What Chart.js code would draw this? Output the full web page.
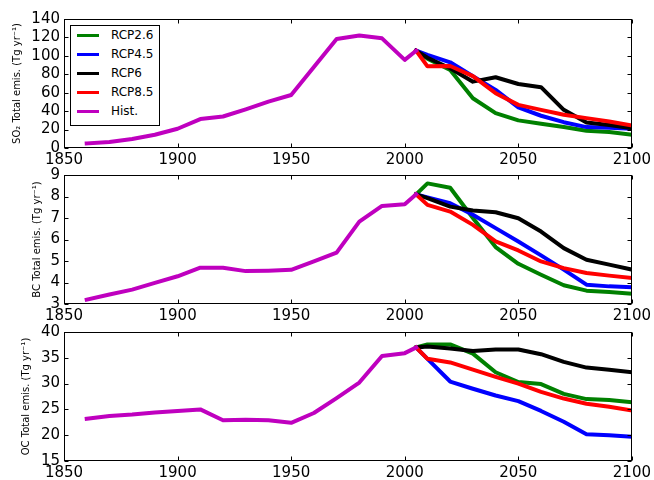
<!DOCTYPE html>
<html>
<head>
<meta charset="utf-8">
<title>Total emissions</title>
<script src="https://cdn.jsdelivr.net/npm/chart.js@4"></script>
<style>
  html, body { margin: 0; padding: 0; background: #fff; }
  #wrap { position: relative; width: 654px; height: 480px; overflow: hidden; }
  #wrap canvas { position: absolute; left: 0; top: 0; }
  #legend {
    position: absolute; left: 70px; top: 25px; width: 90px; height: 101px;
    border: 1px solid #000; background: #fff; box-sizing: border-box;
    font: 12px "DejaVu Sans", sans-serif; color: #000;
  }
  #legend .row { position: absolute; left: 0; height: 19px; line-height: 19px; width: 88px; }
  #legend .swatch { position: absolute; left: 6px; top: 8px; width: 22px; height: 3px; }
  #legend .label { position: absolute; left: 40px; top: 0; white-space: nowrap; }
</style>
</head>
<body>
<div id="wrap">
  <canvas id="so2" width="654" height="480"></canvas>
  <canvas id="bc" width="654" height="480"></canvas>
  <canvas id="oc" width="654" height="480"></canvas>
  <div id="legend"></div>
</div>
<script>
// years of the historical record and of the scenario projections
const histYears = [1860, 1870, 1880, 1890, 1900, 1910, 1920, 1930, 1940, 1950, 1960, 1970, 1980, 1990, 2000, 2005];
const rcpYears = [2005, 2010, 2020, 2030, 2040, 2050, 2060, 2070, 2080, 2090, 2100];

const seriesNames = ['RCP2.6', 'RCP4.5', 'RCP6', 'RCP8.5', 'Hist.'];
const seriesColors = ['#008000', '#0000ff', '#000000', '#ff0000', '#bf00bf'];

// SO2, Tg/yr
const so2Hist = [5, 6.5, 9.7, 14.4, 20.9, 31.4, 34.2, 42, 50.4, 57.5, 88, 118.3, 122, 119, 95.6, 105.6];
const so2Rcp26 = [105.6, 97, 84.7, 54, 37.8, 30, 26.3, 22.7, 18.7, 17.3, 14.4];
const so2Rcp45 = [105.6, 101, 93, 78, 63, 44, 35, 28, 22.7, 22, 21];
const so2Rcp60 = [105.6, 98, 86.5, 72, 76.8, 69.5, 66, 41.4, 27.7, 25, 21.6];
const so2Rcp85 = [105.6, 88.6, 89, 78, 59.5, 46.8, 41.4, 36, 32.4, 28.8, 24.5];

// black carbon, Tg/yr
const bcHist = [3.2, 3.44, 3.67, 3.98, 4.29, 4.69, 4.69, 4.53, 4.55, 4.59, 4.98, 5.39, 6.83, 7.56, 7.64, 8.1];
const bcRcp26 = [8.1, 8.61, 8.41, 7.0, 5.65, 4.87, 4.36, 3.87, 3.62, 3.56, 3.48];
const bcRcp45 = [8.1, 7.96, 7.69, 7.15, 6.53, 5.91, 5.26, 4.6, 3.9, 3.82, 3.78];
const bcRcp60 = [8.1, 7.92, 7.53, 7.35, 7.27, 6.99, 6.37, 5.6, 5.06, 4.83, 4.6];
const bcRcp85 = [8.1, 7.61, 7.3, 6.68, 5.91, 5.49, 4.98, 4.67, 4.44, 4.32, 4.21];

// organic carbon, Tg/yr
const ocHist = [23.2, 23.7, 24.0, 24.4, 24.7, 25.0, 22.9, 23.0, 22.9, 22.4, 24.3, 27.2, 30.2, 35.35, 35.9, 37.0];
const ocRcp26 = [37.0, 37.6, 37.6, 35.8, 32.2, 30.3, 29.9, 28.0, 27.0, 26.8, 26.4];
const ocRcp45 = [37.0, 34.8, 30.4, 29.0, 27.7, 26.6, 24.7, 22.6, 20.2, 20.0, 19.7];
const ocRcp60 = [37.0, 37.2, 36.8, 36.3, 36.6, 36.6, 35.7, 34.2, 33.1, 32.7, 32.2];
const ocRcp85 = [37.0, 34.8, 34.1, 32.7, 31.3, 30.0, 28.4, 27.1, 26.1, 25.5, 24.8];

Chart.defaults.font.family = '"DejaVu Sans", sans-serif';
Chart.defaults.color = '#000';

// matplotlib-style box with inward ticks on all four sides
const frameTicks = {
  id: 'frameTicks',
  afterDraw(chart) {
    const { ctx, chartArea: a, scales } = chart;
    const l = Math.round(a.left) + 0.5, r = Math.round(a.right) - 0.5;
    const t = Math.round(a.top) + 0.5, b = Math.round(a.bottom) - 0.5;
    ctx.save();
    ctx.strokeStyle = '#000';
    ctx.lineWidth = 1;
    ctx.beginPath();
    scales.x.ticks.forEach(tk => {
      const px = Math.round(scales.x.getPixelForValue(tk.value)) + 0.5;
      ctx.moveTo(px, b); ctx.lineTo(px, b - 4);
      ctx.moveTo(px, t); ctx.lineTo(px, t + 4);
    });
    scales.y.ticks.forEach(tk => {
      const py = Math.round(scales.y.getPixelForValue(tk.value)) + 0.5;
      ctx.moveTo(l, py); ctx.lineTo(l + 4, py);
      ctx.moveTo(r, py); ctx.lineTo(r - 4, py);
    });
    ctx.stroke();
    ctx.strokeRect(l, t, r - l, b - t);
    ctx.restore();
  }
};

function toPoints(years, values) {
  return years.map((yr, i) => ({ x: yr, y: values[i] }));
}

function makePanel(id, p) {
  const series = [p.rcp26, p.rcp45, p.rcp60, p.rcp85];
  const datasets = series.map((vals, i) => ({
    label: seriesNames[i],
    data: toPoints(rcpYears, vals),
    borderColor: seriesColors[i],
    order: 4 - i
  }));
  datasets.push({
    label: seriesNames[4],
    data: toPoints(histYears, p.hist),
    borderColor: seriesColors[4],
    order: 0
  });
  datasets.forEach(ds => {
    ds.borderWidth = 4;
    ds.pointRadius = 0;
    ds.tension = 0;
    ds.fill = false;
    ds.borderJoinStyle = 'round';
    ds.borderCapStyle = 'square';
  });

  new Chart(document.getElementById(id), {
    type: 'line',
    data: { datasets },
    options: {
      responsive: false,
      animation: false,
      devicePixelRatio: 1,
      layout: { padding: { top: p.top, bottom: 480 - p.bottom - 20, left: 0, right: 21 } },
      plugins: { legend: { display: false }, tooltip: { enabled: false } },
      scales: {
        x: {
          type: 'linear', min: 1850, max: 2100,
          grid: { display: false, drawTicks: false },
          border: { display: false },
          ticks: { stepSize: 50, padding: 3, autoSkip: false, maxRotation: 0, font: { size: 15 }, callback: v => String(v) },
          afterFit: s => { s.height = 20; }
        },
        y: {
          type: 'linear', min: p.min, max: p.max,
          grid: { display: false, drawTicks: false },
          border: { display: false },
          ticks: { stepSize: p.step, padding: 4, autoSkip: false, font: { size: 15 }, callback: v => String(v) },
          title: { display: true, text: p.title, font: { size: 10 }, padding: { top: p.titlePad, bottom: 0 } },
          afterFit: s => { s.width = 64; }
        }
      }
    },
    plugins: [frameTicks]
  });
}

makePanel('so2', {
  top: 19, bottom: 148, min: 0, max: 140, step: 20, titlePad: 11.5,
  title: 'SO\u2082 Total emis. (Tg yr\u207B\u00B9)',
  hist: so2Hist, rcp26: so2Rcp26, rcp45: so2Rcp45, rcp60: so2Rcp60, rcp85: so2Rcp85
});
makePanel('bc', {
  top: 175, bottom: 304, min: 3, max: 9, step: 1, titlePad: 31,
  title: 'BC Total emis. (Tg yr\u207B\u00B9)',
  hist: bcHist, rcp26: bcRcp26, rcp45: bcRcp45, rcp60: bcRcp60, rcp85: bcRcp85
});
makePanel('oc', {
  top: 332, bottom: 461, min: 15, max: 40, step: 5, titlePad: 20.7,
  title: 'OC Total emis. (Tg yr\u207B\u00B9)',
  hist: ocHist, rcp26: ocRcp26, rcp45: ocRcp45, rcp60: ocRcp60, rcp85: ocRcp85
});

// legend rows for the top panel
const legend = document.getElementById('legend');
seriesNames.forEach((name, i) => {
  const row = document.createElement('div');
  row.className = 'row';
  row.style.top = (19 * i) + 'px';
  const sw = document.createElement('span');
  sw.className = 'swatch';
  sw.style.background = seriesColors[i];
  const lb = document.createElement('span');
  lb.className = 'label';
  lb.textContent = name;
  row.appendChild(sw);
  row.appendChild(lb);
  legend.appendChild(row);
});
</script>
</body>
</html>
